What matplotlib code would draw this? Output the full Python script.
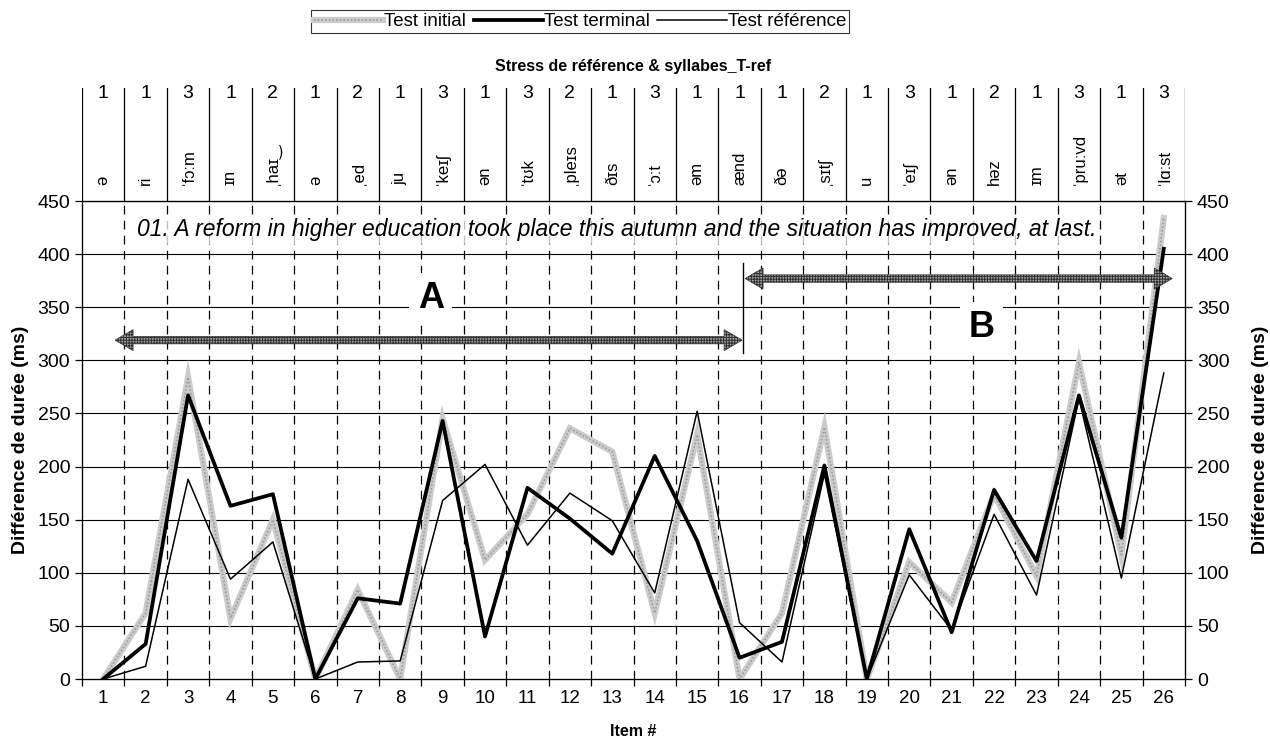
import matplotlib
matplotlib.use("Agg")
import matplotlib.pyplot as plt
import numpy as np
from matplotlib.patches import Polygon
from matplotlib.lines import Line2D

plt.rcParams['font.family'] = ['Liberation Sans', 'DejaVu Sans']
plt.rcParams['hatch.linewidth'] = 0.7

# data
items = list(range(1, 27))
stress = [1, 1, 3, 1, 2, 1, 2, 1, 3, 1, 3, 2, 1, 3, 1, 1, 1, 2, 1, 3, 1, 2, 1, 3, 1, 3]
syllables = ['ə', 'ri', 'ˈfɔːm', 'ɪn', 'ˌhaɪ‿', 'ə', 'ˌed', 'ju', 'ˈkeɪʃ', 'ən',
             'ˈtʊk', 'ˌpleɪs', 'ðɪs', 'ˈɔːt', 'əm', 'ænd', 'ðə', 'ˌsɪtʃ', 'u',
             'ˈeɪʃ', 'ən', 'həz', 'ɪm', 'ˈpruːvd', 'ət', 'ˈlɑːst']
test_initial = [0, 62, 284, 57, 150, 0, 84, 0, 245, 112, 155, 236, 214, 62, 230,
                0, 62, 237, 0, 110, 72, 174, 97, 298, 117, 434]
test_terminal = [0, 33, 267, 163, 174, 0, 76, 71, 243, 40, 180, 151, 118, 210, 130,
                 20, 35, 201, 0, 141, 44, 178, 111, 267, 133, 405]
test_reference = [0, 12, 188, 94, 129, 0, 16, 17, 168, 202, 126, 175, 149, 81, 252,
                  53, 16, 193, 0, 98, 46, 155, 79, 264, 95, 288]
yticks = list(range(0, 451, 50))
sentence = "01. A reform in higher education took place this autumn and the situation has improved, at last."

# annotations: (x start, x end, y)
arrow_spans = [(1.28, 16.06, 319), (16.13, 26.2, 377)]
divider = (16.08, 307, 392)
part_labels = [('A', 8.72, 358), ('B', 21.7, 331)]

W, H = 1270, 751
fig = plt.figure(figsize=(W / 100, H / 100), dpi=100)
L, R, B, T = 82, 1185, 679, 201
ax = fig.add_axes([L / W, 1 - B / H, (R - L) / W, (B - T) / H])
ax.set_xlim(0.5, 26.5)
ax.set_ylim(0, 450)

# grid
for v in yticks[1:]:
    ax.axhline(v, color='black', lw=0.8, zorder=1)
for b in np.arange(1.5, 26, 1):
    ax.axvline(b, color='black', lw=0.9, ls=(0, (7, 5)), zorder=1)

# lines
ax.plot(items, test_initial, color='#cbcbcb', lw=4.5, zorder=3, solid_joinstyle='miter')
ax.plot(items, test_initial, color='#9c9c9c', lw=1.2, ls=(0, (1, 1.2)), zorder=3)
ax.plot(items, test_reference, color='black', lw=1.1, zorder=4)
ax.plot(items, test_terminal, color='black', lw=2.7, zorder=5)

# arrows
xpx = 1 / 42.42
ypx = 450 / 478
shaft, head, hlen = 3.7 * ypx, 10.5 * ypx, 18 * xpx
for x0, x1, y in arrow_spans:
    pts = [(x0, y), (x0 + hlen, y + head), (x0 + hlen, y + shaft),
           (x1 - hlen, y + shaft), (x1 - hlen, y + head), (x1, y),
           (x1 - hlen, y - head), (x1 - hlen, y - shaft), (x0 + hlen, y - shaft),
           (x0 + hlen, y - head)]
    ax.add_patch(Polygon(pts, closed=True, facecolor='#a0a0a0', edgecolor='#303030',
                         hatch='++++++', lw=0.5, zorder=6))
ax.plot([divider[0], divider[0]], [divider[1], divider[2]], color='black', lw=1.0, zorder=6)
for lab, x, y in part_labels:
    ax.text(x, y, lab, ha='center', va='center', fontsize=26, fontweight='bold', zorder=7,
            bbox=dict(facecolor='white', edgecolor='none', pad=6))

ax.text(13.1, 423, sentence, ha='center', va='center', fontsize=16.5, style='italic', zorder=7,
        bbox=dict(facecolor='white', edgecolor='none', alpha=0.75, pad=2))

# axes styling
ax.set_xticks(items)
ax.set_xticks(np.arange(0.5, 27, 1), minor=True)
ax.tick_params(axis='x', which='major', length=0, labelsize=13.5, pad=8)
ax.tick_params(axis='x', which='minor', length=5, width=0.9, direction='out')
ax.set_yticks(yticks)
ax.tick_params(axis='y', length=5, width=0.9, labelsize=14, direction='out')
ax.set_xlabel('Item #', fontsize=11.5, fontweight='bold', labelpad=12)
ax.set_ylabel('Différence de durée (ms)', fontsize=14, fontweight='bold', labelpad=6)
for s in ax.spines.values():
    s.set_linewidth(0.9)

ax2 = ax.twinx()
ax2.set_ylim(0, 450)
ax2.set_yticks(yticks)
ax2.tick_params(axis='y', length=5, width=0.9, labelsize=14, direction='out')
ax2.set_ylabel('Différence de durée (ms)', fontsize=14, fontweight='bold', labelpad=16,
               rotation=90)

# top table with stress and syllables
tt = 88
axt = fig.add_axes([L / W, 1 - T / H, (R - L) / W, (T - tt) / H])
axt.set_xlim(0.5, 26.5)
axt.set_ylim(0, 1)
axt.axis('off')
for b in np.arange(0.5, 27, 1):
    axt.plot([b, b], [0, 1], color='black', lw=0.9)
for x, s, syl in zip(items, stress, syllables):
    axt.text(x, (T - 93) / (T - tt), str(s), ha='center', va='center', fontsize=14)
    axt.text(x, (T - 185) / (T - tt), syl, rotation=90, rotation_mode='anchor',
             ha='left', va='center', fontsize=12)

fig.text((L + R) / 2 / W, 1 - 66 / H, 'Stress de référence & syllabes_T-ref',
         ha='center', va='center', fontsize=11.5, fontweight='bold')

# legend
h_init = (Line2D([], [], color='#cbcbcb', lw=4.5),
          Line2D([], [], color='#9c9c9c', lw=1.2, ls=(0, (1, 1.2))))
h_term = Line2D([], [], color='black', lw=2.7)
h_ref = Line2D([], [], color='black', lw=1.1)
leg = fig.legend([h_init, h_term, h_ref], ['Test initial', 'Test terminal', 'Test référence'],
                 loc='center', bbox_to_anchor=(580 / W, 1 - 21.5 / H), ncol=3, fontsize=13.5,
                 frameon=True, fancybox=False, edgecolor='black', handlelength=3.7,
                 handletextpad=0.05, columnspacing=0.4, borderpad=0.15, borderaxespad=0)
leg.get_frame().set_linewidth(0.8)

fig.savefig('out.png', dpi=100)
